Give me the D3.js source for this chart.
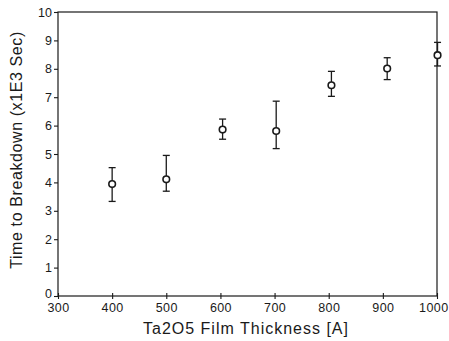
<!DOCTYPE html>
<html><head><meta charset="utf-8">
<script src="https://cdn.jsdelivr.net/npm/d3@7"></script>
<style>body{margin:0;background:#fff}svg{display:block}</style>
</head><body>
<svg id="c" width="449" height="341"></svg>
<script>
const thickness = [400, 500, 604, 703, 805, 908, 1001];
const timeMean  = [3.94, 4.11, 5.86, 5.81, 7.42, 8.01, 8.48];
const errUpper  = [4.52, 4.95, 6.23, 6.86, 7.91, 8.39, 8.93];
const errLower  = [3.33, 3.69, 5.52, 5.19, 7.03, 7.62, 8.10];
const xTicks = [300, 400, 500, 600, 700, 800, 900, 1000];
const yTicks = [0,1,2,3,4,5,6,7,8,9,10];

const svg = d3.select("#c");
const m = {l:58, r:437, t:12, b:296};
const x = d3.scaleLinear().domain([300,1000]).range([m.l, m.r]);
const y = d3.scaleLinear().domain([0,10]).range([m.b, m.t]);
const ink = "#1a1a1a";
const font = "Liberation Sans, Arial, sans-serif";

// frame
svg.append("rect").attr("x", m.l).attr("y", m.t).attr("width", m.r-m.l).attr("height", m.b-m.t)
  .attr("fill","none").attr("stroke", ink).attr("stroke-width", 1.2);

// y axis
const ya = svg.append("g").attr("transform", `translate(${m.l},0)`)
  .call(d3.axisLeft(y).tickValues(yTicks).tickSize(4).tickPadding(2).tickFormat(d3.format("d")));
ya.select(".domain").remove();
ya.selectAll("line").attr("stroke", ink).attr("stroke-width", 1.1);
ya.selectAll("text").attr("font-family", font).attr("font-size", 12.5).attr("fill", ink);
ya.selectAll("text").filter(d=>d===0).attr("dy", "0.1em");

// x axis (ticks crossing axis)
const xa = svg.append("g").attr("transform", `translate(0,${m.b})`)
  .call(d3.axisBottom(x).tickValues(xTicks).tickSize(3).tickPadding(4).tickFormat(d3.format("d")));
xa.select(".domain").remove();
xa.selectAll("line").attr("y1", -3).attr("stroke", ink).attr("stroke-width", 1.1);
xa.selectAll("text").attr("font-family", font).attr("font-size", 12.5).attr("letter-spacing", 0.4).attr("fill", ink);
xa.selectAll("text").filter(d=>d===1000).attr("text-anchor","end").attr("x", 448 - m.r);

// titles
svg.append("text").attr("x", 246).attr("y", 334).attr("text-anchor","middle")
  .attr("font-family", font).attr("font-size", 16).attr("letter-spacing", 1).attr("fill", ink).text("Ta2O5 Film Thickness [A]");
svg.append("text").attr("transform", `translate(22,150) rotate(-90)`).attr("text-anchor","middle")
  .attr("font-family", font).attr("font-size", 16).attr("letter-spacing", 0.6).attr("fill", ink).text("Time to Breakdown (x1E3 Sec)");

// error bars
const data = thickness.map((t,i)=>({t, v:timeMean[i], hi:errUpper[i], lo:errLower[i]}));
const g = svg.append("g").attr("stroke", ink).attr("stroke-width", 1.3).attr("fill","none");
g.selectAll(".v").data(data).join("line")
  .attr("x1", d=>x(d.t)).attr("x2", d=>x(d.t)).attr("y1", d=>y(d.hi)).attr("y2", d=>y(d.lo));
g.selectAll(".cu").data(data).join("line")
  .attr("x1", d=>x(d.t)-3.5).attr("x2", d=>x(d.t)+3.5).attr("y1", d=>y(d.hi)).attr("y2", d=>y(d.hi));
g.selectAll(".cl").data(data).join("line")
  .attr("x1", d=>x(d.t)-3.5).attr("x2", d=>x(d.t)+3.5).attr("y1", d=>y(d.lo)).attr("y2", d=>y(d.lo));
svg.append("g").selectAll("circle").data(data).join("circle")
  .attr("cx", d=>x(d.t)).attr("cy", d=>y(d.v)).attr("r", 3.3)
  .attr("fill","#fff").attr("stroke", ink).attr("stroke-width", 1.6);
</script>
</body></html>
